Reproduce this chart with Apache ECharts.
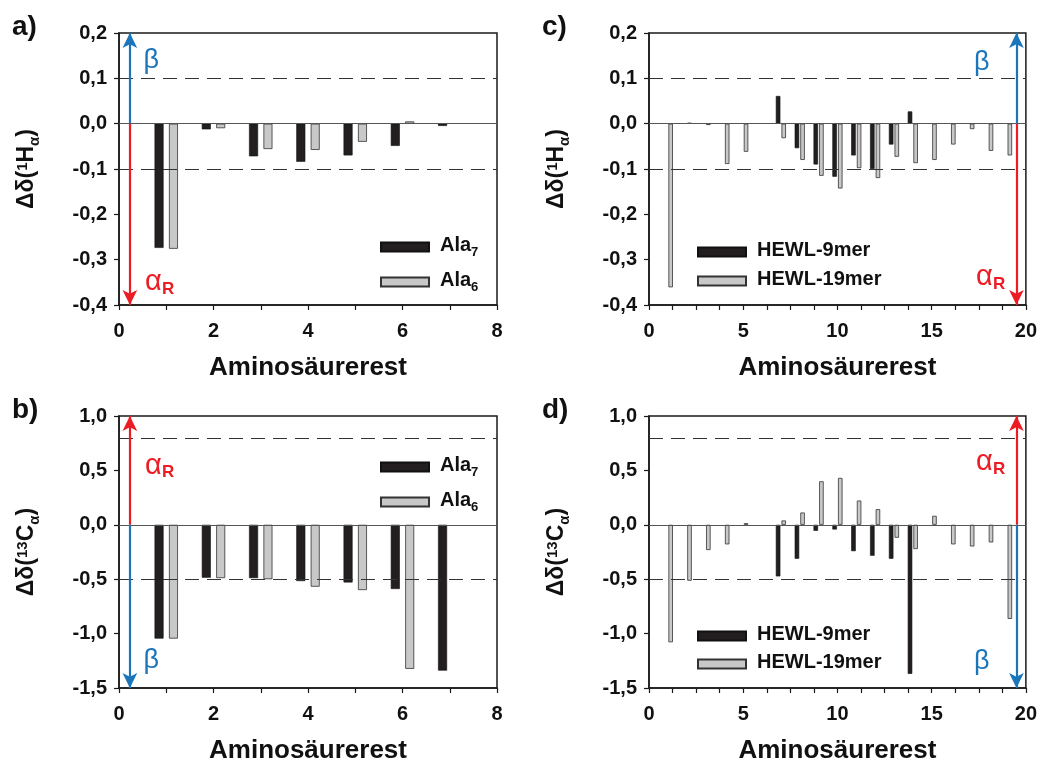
<!DOCTYPE html>
<html>
<head>
<meta charset="utf-8">
<title>Aminosäurerest</title>
<script src="https://cdn.jsdelivr.net/npm/echarts@6/dist/echarts.min.js"></script>
<style>
html, body { margin: 0; padding: 0; background: #fff; }
#main { width: 1040px; height: 767px; }
</style>
</head>
<body>
<div id="main"></div>
<script>
// residue numbers
var alaRes7 = [1, 2, 3, 4, 5, 6, 7];
var alaRes6 = [1, 2, 3, 4, 5, 6];
var hewlRes9 = [7, 8, 9, 10, 11, 12, 13, 14];
var hewlRes19 = [1, 2, 3, 4, 5, 6, 7, 8, 9, 10, 11, 12, 13, 14, 15, 16, 17, 18, 19];

// a) delta 1H-alpha
var ala7H = [-0.274, -0.0125, -0.072, -0.084, -0.070, -0.049, -0.005];
var ala6H = [-0.276, -0.010, -0.056, -0.058, -0.040, 0.005];
// b) delta 13C-alpha
var ala7C = [-1.046, -0.486, -0.490, -0.517, -0.530, -0.590, -1.340];
var ala6C = [-1.046, -0.490, -0.500, -0.569, -0.600, -1.324];
// c) delta 1H-alpha
var hewl9H = [0.061, -0.054, -0.090, -0.117, -0.070, -0.100, -0.046, 0.027];
var hewl19H = [-0.361, 0.002, -0.003, -0.089, -0.062, null, -0.032, -0.080, -0.115, -0.143,
               -0.098, -0.120, -0.073, -0.087, -0.080, -0.046, -0.012, -0.060, -0.070];
// d) delta 13C-alpha
var hewl9C = [-0.474, -0.312, -0.055, -0.043, -0.242, -0.284, -0.312, -1.370];
var hewl19C = [-1.080, -0.514, -0.232, -0.180, 0.015, null, 0.040, 0.113, 0.400, 0.431,
               0.223, 0.144, -0.119, -0.223, 0.083, -0.180, -0.199, -0.162, -0.865];

var FONT = "'Liberation Sans', Arial, Helvetica, sans-serif";
var BLUE = '#1b75bb', RED = '#ec1c24', BLACK = '#231f20', GRAY = '#c8c8c8';

function pairs(xs, ys) {
    var out = [];
    for (var i = 0; i < xs.length; i++) {
        if (ys[i] !== null) out.push([xs[i], ys[i]]);
    }
    return out;
}
function comma(v) {
    if (Math.abs(v) < 1e-9) v = 0;
    return v.toFixed(1).replace('.', ',');
}

var panels = [
    { letter: 'a)', left: 119, top: 33, xMax: 8, xInt: 2, xMinor: 2, yMin: -0.4, yMax: 0.2, yInt: 0.1,
      iso: '1', nuc: 'H', names: ['Ala7', 'Ala6'], xs: [alaRes7, alaRes6], ys: [ala7H, ala6H],
      dashed: [0.1, -0.1], arrowX: 0.23, up: 'b', bar: 9, gap: '60%',
      betaAt: [0.685, 0.14], alphaAt: [0.86, -0.35], legend: [380, 233, 9] },
    { letter: 'b)', left: 119, top: 416, xMax: 8, xInt: 2, xMinor: 2, yMin: -1.5, yMax: 1.0, yInt: 0.5,
      iso: '13', nuc: 'C', names: ['Ala7', 'Ala6'], xs: [alaRes7, alaRes6], ys: [ala7C, ala6C],
      dashed: [0.8, -0.5], arrowX: 0.23, up: 'a', bar: 9, gap: '60%',
      betaAt: [0.685, -1.25], alphaAt: [0.86, 0.54], legend: [380, 453, 9] },
    { letter: 'c)', left: 649, top: 33, xMax: 20, xInt: 5, xMinor: 4, yMin: -0.4, yMax: 0.2, yInt: 0.1,
      iso: '1', nuc: 'H', names: ['HEWL-9mer', 'HEWL-19mer'], xs: [hewlRes9, hewlRes19], ys: [hewl9H, hewl19H],
      dashed: [0.1, -0.1], arrowX: 19.5, up: 'b', bar: 4.5, gap: '25%',
      betaAt: [17.66, 0.135], alphaAt: [18.13, -0.339], legend: [697, 240, 9] },
    { letter: 'd)', left: 649, top: 416, xMax: 20, xInt: 5, xMinor: 4, yMin: -1.5, yMax: 1.0, yInt: 0.5,
      iso: '13', nuc: 'C', names: ['HEWL-9mer', 'HEWL-19mer'], xs: [hewlRes9, hewlRes19], ys: [hewl9C, hewl19C],
      dashed: [0.8, -0.5], arrowX: 19.5, up: 'a', bar: 4.5, gap: '25%',
      betaAt: [17.66, -1.26], alphaAt: [18.13, 0.57], legend: [697, 624, 8] }
];

var axisLineStyle = { color: '#1a1a1a', width: 1.5 };
var labelStyle = { fontFamily: FONT, fontSize: 20, fontWeight: 'bold', color: '#111' };

var option = {
    animation: false,
    backgroundColor: '#fff',
    title: [], grid: [], xAxis: [], yAxis: [], series: [], legend: []
};

panels.forEach(function (p, i) {
    option.title.push({
        text: p.letter, left: p.left - 107, top: p.top - 20, padding: 0,
        textStyle: { fontFamily: FONT, fontSize: 28, fontWeight: 'bold', color: '#111' }
    });
    option.grid.push({
        left: p.left, top: p.top, width: 378, height: 272,
        show: true, borderColor: '#1a1a1a', borderWidth: 1.5, backgroundColor: 'transparent'
    });
    option.xAxis.push({
        type: 'value', gridIndex: i, min: 0, max: p.xMax, interval: p.xInt,
        axisLine: { onZero: false, lineStyle: axisLineStyle },
        axisTick: { show: true, length: 5, lineStyle: { color: '#1a1a1a', width: 1.2 } },
        minorTick: { show: true, splitNumber: p.xMinor, length: 5, lineStyle: { color: '#1a1a1a', width: 1.2 } },
        splitLine: { show: false }, minorSplitLine: { show: false },
        axisLabel: Object.assign({ margin: 16 }, labelStyle),
        name: 'Aminosäurerest', nameLocation: 'middle', nameGap: 50,
        nameTextStyle: { fontFamily: FONT, fontSize: 26, fontWeight: 'bold', color: '#111' }
    });
    option.yAxis.push({
        type: 'value', gridIndex: i, min: p.yMin, max: p.yMax, interval: p.yInt,
        axisLine: { onZero: false, lineStyle: axisLineStyle },
        axisTick: { show: true, length: 5, lineStyle: { color: '#1a1a1a', width: 1.2 } },
        splitLine: { show: false },
        axisLabel: Object.assign({ margin: 12, formatter: comma }, labelStyle),
        name: '{m|Δδ(}{sup|' + p.iso + '}{m|' + p.nuc + '}{sub|α}{m|)}',
        nameLocation: 'middle', nameGap: 77,
        nameTextStyle: {
            fontFamily: FONT, color: '#111',
            rich: {
                m: { fontFamily: FONT, fontSize: 23, fontWeight: 'bold', lineHeight: 27, verticalAlign: 'top', color: '#111' },
                sup: { fontFamily: FONT, fontSize: 15, fontWeight: 'bold', lineHeight: 15, verticalAlign: 'top', color: '#111' },
                sub: { fontFamily: FONT, fontSize: 15, fontWeight: 'bold', lineHeight: 15, padding: [15, 0, 0, 0], verticalAlign: 'bottom', color: '#111' }
            }
        }
    });

    var upColor = p.up === 'b' ? BLUE : RED;
    var downColor = p.up === 'b' ? RED : BLUE;

    option.series.push({
        type: 'bar', name: p.names[0], xAxisIndex: i, yAxisIndex: i,
        data: pairs(p.xs[0], p.ys[0]),
        barWidth: p.bar, barGap: p.gap,
        itemStyle: { color: BLACK, borderColor: '#111', borderWidth: 0.6 },
        z: 3
    });
    option.series.push({
        type: 'bar', name: p.names[1], xAxisIndex: i, yAxisIndex: i,
        data: pairs(p.xs[1], p.ys[1]),
        barWidth: p.bar, barGap: p.gap,
        itemStyle: { color: GRAY, borderColor: '#333', borderWidth: 0.8 },
        z: 3
    });

    // helper series: reference lines, arrows and greek labels
    var refLines = [{ yAxis: 0, lineStyle: { color: '#555', width: 1, type: 'solid' } }];
    p.dashed.forEach(function (v) {
        refLines.push({ yAxis: v, lineStyle: { color: '#333', width: 1.2, type: [14, 8] } });
    });
    option.series.push({
        type: 'line', xAxisIndex: i, yAxisIndex: i, data: [], z: 1,
        markLine: { silent: true, symbol: 'none', label: { show: false }, data: refLines }
    });
    option.series.push({
        type: 'line', xAxisIndex: i, yAxisIndex: i, data: [], z: 4,
        markLine: {
            silent: true, symbol: ['none', 'arrow'], symbolSize: [11, 15],
            label: { show: false },
            data: [
                [{ coord: [p.arrowX, 0], lineStyle: { color: upColor, width: 2.2, type: 'solid' } }, { coord: [p.arrowX, p.yMax] }],
                [{ coord: [p.arrowX, 0], lineStyle: { color: downColor, width: 2.2, type: 'solid' } }, { coord: [p.arrowX, p.yMin] }]
            ]
        },
        markPoint: {
            silent: true, symbol: 'rect', symbolSize: 1,
            itemStyle: { color: 'transparent' },
            label: {
                show: true, position: 'inside',
                rich: {
                    b: { fontFamily: FONT, fontSize: 27, color: BLUE, lineHeight: 30 },
                    a: { fontFamily: FONT, fontSize: 29, color: RED, lineHeight: 30, verticalAlign: 'top' },
                    r: { fontFamily: FONT, fontSize: 17, fontWeight: 'bold', color: RED, lineHeight: 17, padding: [16, 0, 0, 0], verticalAlign: 'bottom' }
                }
            },
            data: [
                { coord: p.betaAt, label: { formatter: '{b|β}' } },
                { coord: p.alphaAt, label: { formatter: '{a|α}{r|R}' } }
            ]
        }
    });

    var isAla = p.names[0] === 'Ala7';
    option.legend.push({
        data: p.names, left: p.legend[0], top: p.legend[1], orient: 'vertical',
        padding: 0, itemGap: p.legend[2], itemWidth: 48, itemHeight: 9, icon: 'rect',
        selectedMode: false,
        formatter: function (name) {
            if (isAla) return '{n|Ala}{s|' + name.slice(3) + '}';
            return '{n|' + name + '}';
        },
        textStyle: {
            fontFamily: FONT, color: '#111',
            rich: {
                n: { fontFamily: FONT, fontSize: 20, fontWeight: 'bold', lineHeight: 24, verticalAlign: 'top', padding: [0, 0, 0, 6], color: '#111' },
                s: { fontFamily: FONT, fontSize: 13, fontWeight: 'bold', lineHeight: 13, padding: [13, 0, 0, 0], verticalAlign: 'bottom', color: '#111' }
            }
        }
    });
});

var chart = echarts.init(document.getElementById('main'));
chart.setOption(option);
</script>
</body>
</html>
